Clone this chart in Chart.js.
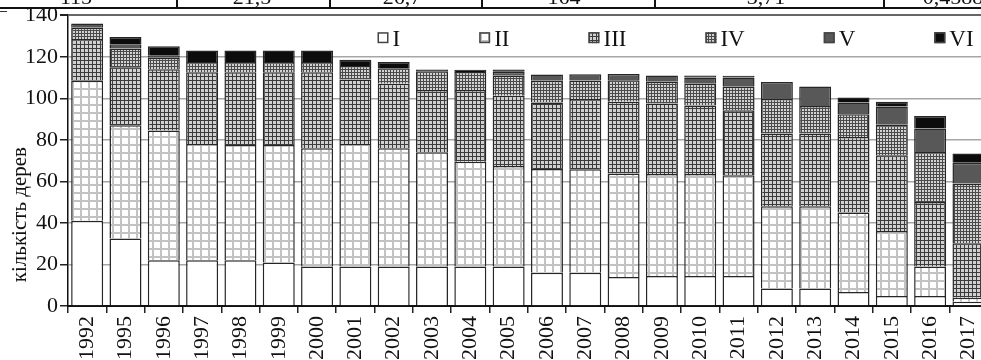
<!DOCTYPE html>
<html>
<head>
<meta charset="utf-8">
<script src="https://cdn.jsdelivr.net/npm/chart.js@4.4.1/dist/chart.umd.min.js"></script>
<style>
  html, body { margin: 0; padding: 0; background: #fff; overflow: hidden; }
  #wrap { position: relative; width: 981px; height: 360px; overflow: hidden; }
  #chart { position: absolute; left: 0; top: 0; }
  #strip { position: absolute; left: 0; top: 0; width: 981px; height: 9px; overflow: hidden;
           border-bottom: 2px solid #111; box-sizing: border-box; }
  #strip .sep { position: absolute; top: 0; width: 2px; height: 9px; background: #111; }
  #strip .cell { position: absolute; top: -16px; line-height: 22px; font: 22px "Liberation Serif", serif;
                 color: #111; transform: translateX(-50%); white-space: nowrap; }
  #dash { position: absolute; left: 0; top: 11px; width: 7px; height: 1px; background: #333; }
</style>
</head>
<body>
<div id="wrap">
  <canvas id="chart" width="998" height="363"></canvas>
  <div id="strip">
    <span class="cell" style="left:76px">115</span>
    <div class="sep" style="left:176px"></div>
    <span class="cell" style="left:252px">21,5</span>
    <div class="sep" style="left:329px"></div>
    <span class="cell" style="left:402px">26,7</span>
    <div class="sep" style="left:481px"></div>
    <span class="cell" style="left:564px">164</span>
    <div class="sep" style="left:654px"></div>
    <span class="cell" style="left:766px">3,71</span>
    <div class="sep" style="left:883px"></div>
    <span class="cell" style="left:953px">0,4588</span>
  </div>
  <div id="dash"></div>
</div>
<script>
// ── Data ───────────────────────────────────────────────────────────────────
const YEARS = ["1992", "1995", "1996", "1997", "1998", "1999", "2000", "2001",
  "2002", "2003", "2004", "2005", "2006", "2007", "2008", "2009", "2010",
  "2011", "2012", "2013", "2014", "2015", "2016", "2017"];

const CLASS_LABELS = ["I", "II", "III", "IV", "V", "VI"];

const CLASS_I   = [41, 32.5, 22, 22, 22, 21, 19, 19, 19, 19, 19, 19, 16, 16, 14, 14.5, 14.5, 14.5, 8.4, 8.4, 6.7, 4.8, 4.8, 2];
const CLASS_II  = [67.5, 54.5, 62.5, 56, 55.5, 56.5, 57, 59, 57, 55, 50.5, 48.4, 50, 49.8, 49.8, 49, 49, 48.5, 39.6, 39.6, 38.3, 31.3, 14.2, 2];
const CLASS_III = [20, 28, 29.5, 34.5, 35, 35, 36.5, 31, 31, 30, 34.5, 33.8, 32, 33.8, 34.5, 34, 33, 31.3, 35, 35, 36.4, 36.5, 31.1, 26.2];
const CLASS_IV  = [5.5, 9, 5.5, 5, 5, 5, 5, 6.5, 7.5, 9, 8.7, 9.6, 10.4, 9, 10.4, 10.5, 10.5, 11.3, 16.6, 13.3, 10.9, 14.6, 24.1, 28.8];
const CLASS_V   = [2, 2, 1, 0, 0, 0, 0, 0, 0, 0, 0, 2, 3, 3, 3, 3, 3, 4.4, 8.3, 9.4, 5.7, 8.8, 11.2, 10];
const CLASS_VI  = [0, 3.5, 4.5, 5.5, 5.5, 5.5, 5.5, 3, 3, 0.8, 1, 1, 0, 0, 0, 0, 1, 0.8, 0, 0, 2.4, 2.3, 6.1, 4.4];

const Y_TICKS = [0, 20, 40, 60, 80, 100, 120, 140];
const Y_TITLE = "кількість дерев";

// ── Fills ──────────────────────────────────────────────────────────────────
const FONT = "'Liberation Serif', 'Times New Roman', serif";
const INK = "#111";

function gridPattern(size, bg, line, lw) {
  const c = document.createElement("canvas");
  c.width = c.height = size;
  const g = c.getContext("2d");
  g.fillStyle = bg;
  g.fillRect(0, 0, size, size);
  g.fillStyle = line;
  g.fillRect(0, 0, size, lw);
  g.fillRect(0, 0, lw, size);
  return g.createPattern(c, "repeat");
}

const FILLS = [
  "#ffffff",
  gridPattern(8, "#ffffff", "#c2c2c2", 2),
  gridPattern(4, "#d0d0d0", "#3c3c3c", 1),
  gridPattern(3, "#d2d2d2", "#4a4a4a", 1),
  "#585858",
  "#0c0c0c",
];

const SERIES = [CLASS_I, CLASS_II, CLASS_III, CLASS_IV, CLASS_V, CLASS_VI];

// ── Plugins: in-plot legend and y title ───────────────────────────────────
const romanLegend = {
  id: "romanLegend",
  afterDraw(chart) {
    const { ctx, chartArea } = chart;
    const box = 11, gap = 4, spacing = 79;
    ctx.save();
    ctx.font = "23px " + FONT;
    const items = chart.data.datasets.map(ds => ({
      label: ds.label,
      fill: ds.backgroundColor,
      w: box + gap + ctx.measureText(ds.label).width,
    }));
    const total = items.reduce((s, it) => s + it.w, 0) + spacing * (items.length - 1);
    let x = chartArea.right - 14 - total;
    const boxTop = chartArea.top + 17;
    const base = chartArea.top + 31;
    items.forEach(it => {
      ctx.fillStyle = it.fill;
      ctx.fillRect(x, boxTop, box, box);
      ctx.strokeStyle = "#444";
      ctx.lineWidth = 1.5;
      ctx.strokeRect(x + 0.75, boxTop + 0.75, box - 1.5, box - 1.5);
      ctx.fillStyle = INK;
      ctx.textBaseline = "alphabetic";
      ctx.fillText(it.label, x + box + gap, base);
      x += it.w + spacing;
    });
    ctx.restore();
  },
};

const yTitle = {
  id: "yTitle",
  afterDraw(chart) {
    const { ctx, chartArea } = chart;
    ctx.save();
    ctx.font = "21px " + FONT;
    ctx.fillStyle = INK;
    ctx.translate(26, (chartArea.top + chartArea.bottom) / 2 + 54);
    ctx.rotate(-Math.PI / 2);
    ctx.textAlign = "center";
    ctx.textBaseline = "alphabetic";
    ctx.fillText(Y_TITLE, 0, 0);
    ctx.restore();
  },
};

// ── Chart ──────────────────────────────────────────────────────────────────
new Chart(document.getElementById("chart"), {
  type: "bar",
  data: {
    labels: YEARS,
    datasets: SERIES.map((values, i) => ({
      label: CLASS_LABELS[i],
      data: values,
      backgroundColor: FILLS[i],
      borderColor: "#262626",
      borderWidth: 1.5,
      borderSkipped: "start",
      categoryPercentage: 1,
      barPercentage: 0.835,
    })),
  },
  options: {
    responsive: false,
    animation: false,
    devicePixelRatio: 1,
    layout: { padding: { top: 15, left: 23, right: 7, bottom: 0 } },
    plugins: {
      legend: { display: false },
      tooltip: { enabled: false },
    },
    scales: {
      x: {
        stacked: true,
        offset: true,
        grid: {
          offset: true,
          drawOnChartArea: false,
          drawTicks: true,
          tickLength: 7,
          color: "#222",
          lineWidth: 1.5,
        },
        border: { display: true, color: INK, width: 2 },
        ticks: {
          autoSkip: false,
          maxRotation: 90,
          minRotation: 90,
          padding: 3,
          color: INK,
          font: { family: FONT, size: 22 },
        },
      },
      y: {
        stacked: true,
        min: Y_TICKS[0],
        max: Y_TICKS[Y_TICKS.length - 1],
        afterBuildTicks: axis => { axis.ticks = Y_TICKS.map(v => ({ value: v })); },
        grid: {
          color: c => (c.tick && c.tick.value === 140 ? "#666" : "#a6a6a6"),
          lineWidth: c => (c.tick && c.tick.value === 140 ? 2 : 1.5),
          tickColor: "#222",
          tickLength: 8,
        },
        border: { display: true, color: INK, width: 1.5 },
        ticks: {
          padding: 2,
          color: INK,
          font: { family: FONT, size: 22 },
        },
      },
    },
  },
  plugins: [romanLegend, yTitle],
});
</script>
</body>
</html>
